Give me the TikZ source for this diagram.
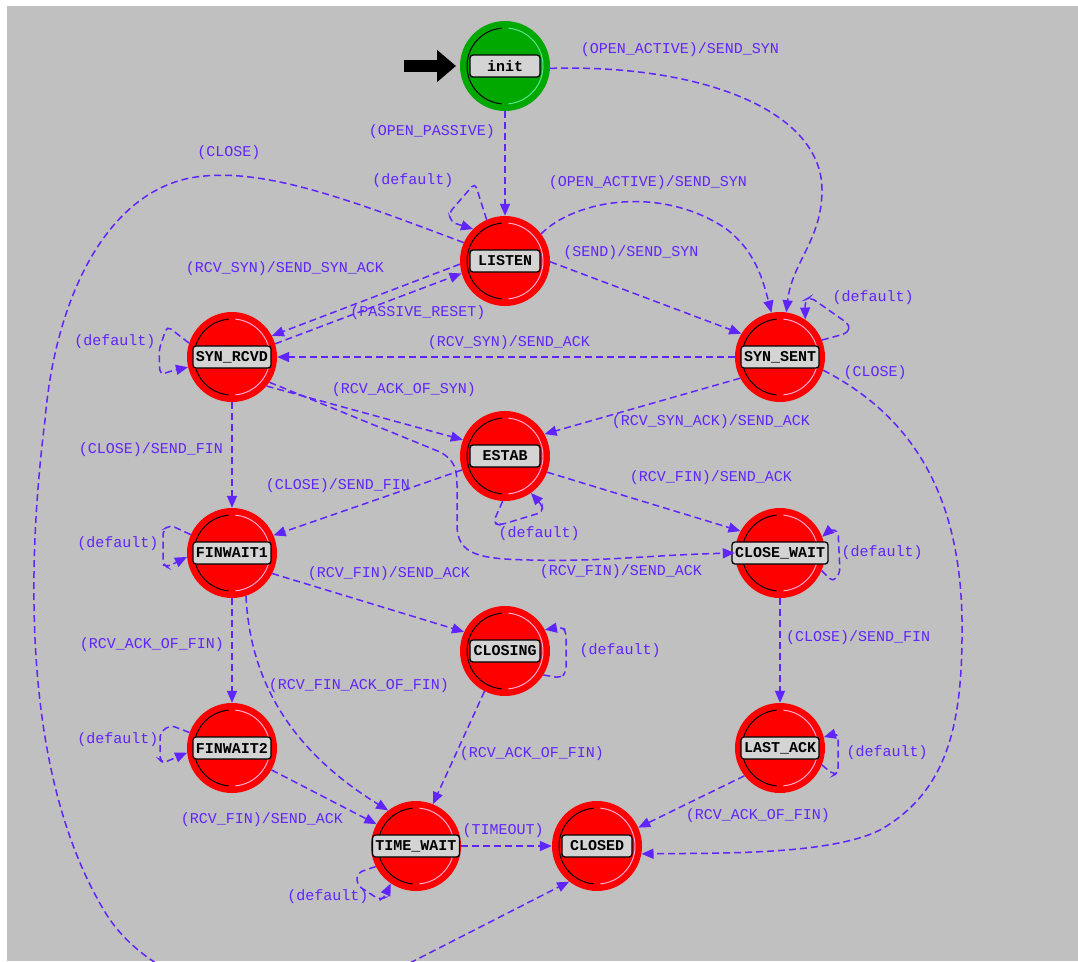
\documentclass[tikz,border=0pt]{standalone}
\usepackage{fontspec}
\newfontfamily\monofont{Liberation Mono}
\usetikzlibrary{arrows.meta}
\definecolor{bg}{RGB}{192,192,192}
\definecolor{edgec}{RGB}{96,36,252}
\definecolor{stred}{RGB}{255,0,0}
\definecolor{stpink}{RGB}{255,170,210}
\definecolor{stgreen}{RGB}{0,168,0}
\definecolor{stgreenl}{RGB}{90,230,140}
\definecolor{boxc}{RGB}{212,212,212}
\begin{document}
\begin{tikzpicture}[x=1pt,y=-1pt,
  stateshape/.style n args={2}{circle, minimum size=90pt, inner sep=0pt, fill=#1,
    path picture={
      \draw[black, line width=1pt, x=1pt, y=1pt] ([shift={(95:38pt)}]path picture bounding box.center) arc[start angle=95, end angle=265, radius=38pt];
      \draw[#2, line width=1pt, x=1pt, y=1pt] ([shift={(-85:38pt)}]path picture bounding box.center) arc[start angle=-85, end angle=85, radius=38pt];
    }},
  redstate/.style={stateshape={stred}{stpink}},
  initstate/.style={stateshape={stgreen}{stgreenl}},
  lbl/.style={draw=black, fill=boxc, rounded corners=3pt, line width=1.3pt,
    minimum width=70pt, minimum height=22pt, inner xsep=3pt, inner ysep=0pt,
    font=\monofont\bfseries\fontsize{15}{15}\selectfont, text=black},
  elabel/.style={text=edgec, inner sep=0pt, font=\monofont\fontsize{15}{15}\selectfont},
  trans/.style={draw=edgec, line width=1.5pt, dash pattern=on 7pt off 4pt,
    -{Triangle[length=12pt,width=10pt]}},
  loopy/.style={trans, rounded corners=5pt}
]
\useasboundingbox (0,0) rectangle (1078,961);
\fill[white] (0,0) rectangle (1078,961);
\fill[bg] (7,6) rectangle (1078,961);
\clip (7,6) rectangle (1078,961);

% states
\node[initstate] (init) at (505,66) {};
\node[lbl] (init-t) at (init) {init};
\node[redstate] (listen) at (505,261) {};
\node[lbl] (listen-t) at (listen) {LISTEN};
\node[redstate] (synrcvd) at (232,357) {};
\node[lbl] (synrcvd-t) at (synrcvd) {SYN\_RCVD};
\node[redstate] (synsent) at (780,357) {};
\node[lbl] (synsent-t) at (synsent) {SYN\_SENT};
\node[redstate] (estab) at (505,456) {};
\node[lbl] (estab-t) at (estab) {ESTAB};
\node[redstate] (finwait1) at (232,553) {};
\node[lbl] (finwait1-t) at (finwait1) {FINWAIT1};
\node[redstate] (closewait) at (780,553) {};
\node[lbl] (closewait-t) at (closewait) {CLOSE\_WAIT};
\node[redstate] (closing) at (505,651) {};
\node[lbl] (closing-t) at (closing) {CLOSING};
\node[redstate] (finwait2) at (232,748) {};
\node[lbl] (finwait2-t) at (finwait2) {FINWAIT2};
\node[redstate] (lastack) at (780,748) {};
\node[lbl] (lastack-t) at (lastack) {LAST\_ACK};
\node[redstate] (timewait) at (416,846) {};
\node[lbl] (timewait-t) at (timewait) {TIME\_WAIT};
\node[redstate] (closed) at (597,846) {};
\node[lbl] (closed-t) at (closed) {CLOSED};

% initial arrow
\coordinate (initsrc) at (404,66);
\coordinate (inittip) at (456,66);
\draw[black, line width=12pt, -{Triangle[length=19pt,width=31pt]}] (initsrc) -- (inittip);

% transitions
\draw[trans] (init.-3) .. controls (700,64) and (822,110) .. (822,190) .. controls (822,240) and (792,262) .. (synsent.82);
\draw[trans] (init) -- (listen);
\draw[loopy] (listen.114) -- (475,183) -- (449,213) -- (451,222) -- (listen.135);
\draw[trans] (listen.37) .. controls (575,200) and (660,185) .. (725,228) .. controls (755,250) and (763,280) .. (synsent.101);
\draw[trans] (listen.-1) -- (synsent.149);
\draw[trans] (listen.184) -- (synrcvd.28);
\draw[trans] (synrcvd.17) -- (listen.196);
\draw[trans] (synsent.west) -- (synrcvd.east);
\draw[loopy] (synsent.22) -- (848,333) -- (850,325) -- (810,297) -- (805,300) -- (synsent.56);
\draw[loopy] (synrcvd.162) -- (167,326) -- (159,350) -- (160,375) -- (171,371) -- (synrcvd.193);
\draw[trans] (listen.156) .. controls (350,200) and (260,165) .. (190,178) .. controls (105,195) and (55,300) .. (45,420) .. controls (25,580) and (25,780) .. (105,912) .. controls (155,995) and (300,1030) .. (400,968) -- (closed.232);
\draw[trans] (synrcvd.-40) -- (estab.159);
\draw[trans] (synrcvd.-34) -- (440,452) .. controls (455,460) and (457,470) .. (457,485) -- (457,525) .. controls (457,555) and (480,559) .. (530,560) .. controls (600,562) and (650,555) .. (closewait.west);
\draw[trans] (synsent.208) -- (estab.29);
\draw[trans] (synsent.-17) .. controls (900,410) and (960,480) .. (962,620) .. controls (963,720) and (950,790) .. (880,830) .. controls (830,855) and (720,853) .. (closed.-10);
\draw[trans] (estab.198) -- (finwait1.23);
\draw[trans] (synrcvd) -- (finwait1);
\draw[loopy] (estab.267) -- (493,523) -- (500,525) -- (543,512) -- (542,505) -- (estab.305);
\draw[trans] (estab.-21) -- (closewait.151);
\draw[loopy] (closewait.-23) -- (833,582) -- (840,573) -- (838,530) -- (830,530) -- (closewait.21);
\draw[trans] (closewait) -- (lastack);
\draw[loopy] (finwait1.156) -- (170,525) -- (163,530) -- (163,565) -- (167,567) -- (finwait1.185);
\draw[trans] (finwait1.-27) -- (closing.155);
\draw[trans] (finwait1) -- (finwait2);
\draw[trans] (finwait1.-72) .. controls (250,680) and (290,750) .. (timewait.128);
\draw[loopy] (finwait2.160) -- (170,725) -- (160,733) -- (160,760) -- (163,763) -- (finwait2.186);
\draw[trans] (finwait2.-29) -- (timewait.151);
\draw[loopy] (closing.-32) -- (561,678) -- (566,672) -- (566,630) -- (561,627) -- (closing.28);
\draw[trans] (closing.243) -- (timewait.68);
\draw[loopy] (lastack.-22) -- (834,775) -- (838,773) -- (838,733) -- (lastack.14);
\draw[trans] (lastack.218) -- (closed.24);
\draw[trans] (timewait) -- (closed);
\draw[loopy] (timewait.207) -- (357,873) -- (357,885) -- (380,900) -- (384,898) -- (timewait.236);

% labels
\node[elabel] (l01) at (680,50) {(OPEN\_ACTIVE)/SEND\_SYN};
\node[elabel] (l02) at (432,132) {(OPEN\_PASSIVE)};
\node[elabel] (l03) at (413,181) {(default)};
\node[elabel] (l04) at (648,183) {(OPEN\_ACTIVE)/SEND\_SYN};
\node[elabel] (l05) at (229,153) {(CLOSE)};
\node[elabel] (l06) at (631,253) {(SEND)/SEND\_SYN};
\node[elabel] (l07) at (285,269) {(RCV\_SYN)/SEND\_SYN\_ACK};
\node[elabel] (l08) at (418,313) {(PASSIVE\_RESET)};
\node[elabel] (l09) at (873,298) {(default)};
\node[elabel] (l10) at (115,342) {(default)};
\node[elabel] (l11) at (509,343) {(RCV\_SYN)/SEND\_ACK};
\node[elabel] (l12) at (875,373) {(CLOSE)};
\node[elabel] (l13) at (404,390) {(RCV\_ACK\_OF\_SYN)};
\node[elabel] (l14) at (711,422) {(RCV\_SYN\_ACK)/SEND\_ACK};
\node[elabel] (l15) at (151,450) {(CLOSE)/SEND\_FIN};
\node[elabel] (l16) at (338,486) {(CLOSE)/SEND\_FIN};
\node[elabel] (l17) at (711,478) {(RCV\_FIN)/SEND\_ACK};
\node[elabel] (l18) at (539,534) {(default)};
\node[elabel] (l19) at (118,544) {(default)};
\node[elabel] (l20) at (882,553) {(default)};
\node[elabel] (l21) at (621,572) {(RCV\_FIN)/SEND\_ACK};
\node[elabel] (l22) at (389,574) {(RCV\_FIN)/SEND\_ACK};
\node[elabel] (l23) at (858,638) {(CLOSE)/SEND\_FIN};
\node[elabel] (l24) at (152,645) {(RCV\_ACK\_OF\_FIN)};
\node[elabel] (l25) at (620,651) {(default)};
\node[elabel] (l26) at (359,686) {(RCV\_FIN\_ACK\_OF\_FIN)};
\node[elabel] (l27) at (118,740) {(default)};
\node[elabel] (l28) at (532,754) {(RCV\_ACK\_OF\_FIN)};
\node[elabel] (l29) at (887,753) {(default)};
\node[elabel] (l30) at (758,816) {(RCV\_ACK\_OF\_FIN)};
\node[elabel] (l31) at (262,820) {(RCV\_FIN)/SEND\_ACK};
\node[elabel] (l32) at (503,831) {(TIMEOUT)};
\node[elabel] (l33) at (328,897) {(default)};
\end{tikzpicture}
\end{document}
